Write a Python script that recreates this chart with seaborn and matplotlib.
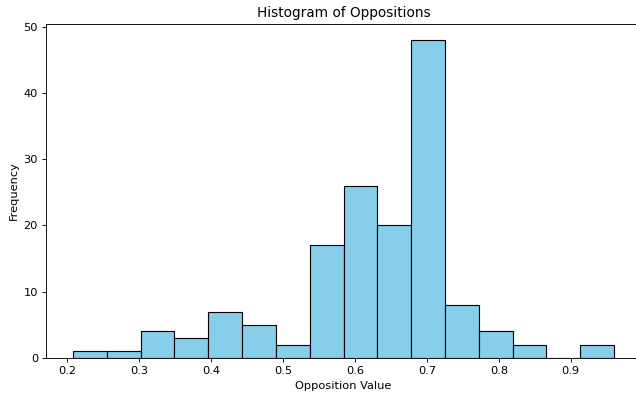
import numpy as np
import pandas as pd
import matplotlib
matplotlib.use("Agg")
import matplotlib.pyplot as plt
import seaborn as sns

# histogram range and counts (16 equal bins)
bin_lo = 0.208
bin_hi = 0.960
counts = [1, 1, 4, 3, 7, 5, 2, 17, 26, 20, 48, 8, 4, 2, 0, 2]

# one value per observation, placed at its bin's centre
width = (bin_hi - bin_lo) / len(counts)
centres = bin_lo + width * (np.arange(len(counts)) + 0.5)
values = np.repeat(centres, counts)
df = pd.DataFrame({"opposition": values})

dpi = 82
fig, ax = plt.subplots(figsize=(636 / dpi, 396 / dpi))
sns.histplot(data=df, x="opposition", bins=len(counts), binrange=(bin_lo, bin_hi),
             color="skyblue", edgecolor="black", alpha=1, ax=ax)
ax.set_title("Histogram of Oppositions")
ax.set_xlabel("Opposition Value")
ax.set_ylabel("Frequency")
# the original picture is cropped just left of the right spine
fig.subplots_adjust(left=46 / 636, right=641 / 636, top=1 - 24 / 396, bottom=1 - 358 / 396)
plt.savefig("out.png", dpi=dpi)
